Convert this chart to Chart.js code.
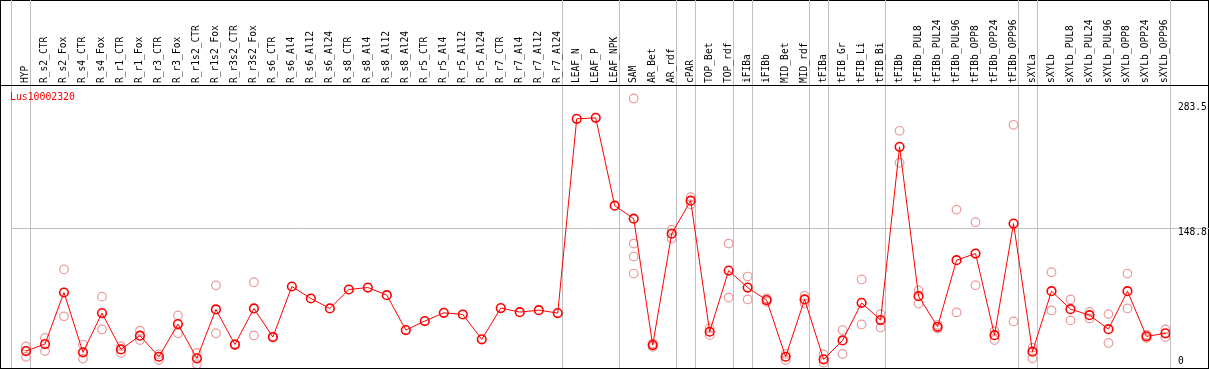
<!DOCTYPE html>
<html>
<head>
<meta charset="utf-8">
<script src="https://cdn.jsdelivr.net/npm/chart.js@4.4.1/dist/chart.umd.min.js"></script>
<style>
  body { margin: 0; background: #fff; }
  #frame { position: absolute; left: 0; top: 0; width: 1209px; height: 369px; box-sizing: border-box; border: 1px solid #000; }
  #rule { position: absolute; left: 0; top: 85px; width: 1209px; height: 1px; background: #000; }
  #wrap { position: absolute; left: 0; top: 0; width: 1209px; height: 370px; }
  #gene { position: absolute; left: 10px; top: 91px; color: #f00; font: 9.8px "DejaVu Sans Mono", monospace; }
</style>
</head>
<body>
<div id="frame"></div>
<div id="rule"></div>
<div id="wrap"><canvas id="expr" width="1209" height="370"></canvas></div>
<div id="gene">Lus10002320</div>
<script>
const categories = [
  'HYP', 'R_s2_CTR', 'R_s2_Fox', 'R_s4_CTR', 'R_s4_Fox', 'R_r1_CTR', 'R_r1_Fox', 'R_r3_CTR', 'R_r3_Fox',
  'R_r1s2_CTR', 'R_r1s2_Fox', 'R_r3s2_CTR', 'R_r3s2_Fox', 'R_s6_CTR', 'R_s6_Al4', 'R_s6_Al12', 'R_s6_Al24',
  'R_s8_CTR', 'R_s8_Al4', 'R_s8_Al12', 'R_s8_Al24', 'R_r5_CTR', 'R_r5_Al4', 'R_r5_Al12', 'R_r5_Al24',
  'R_r7_CTR', 'R_r7_Al4', 'R_r7_Al12', 'R_r7_Al24', 'LEAF_N', 'LEAF_P', 'LEAF_NPK', 'SAM', 'AR_Bet', 'AR_rdf',
  'cPAR', 'TOP_Bet', 'TOP_rdf', 'iFIBa', 'iFIBb', 'MID_Bet', 'MID_rdf', 'tFIBa', 'tFIB_Gr', 'tFIB_Li', 'tFIB_Bi',
  'tFIBb', 'tFIBb_PUL8', 'tFIBb_PUL24', 'tFIBb_PUL96', 'tFIBb_OPP8', 'tFIBb_OPP24', 'tFIBb_OPP96',
  'sXYLa', 'sXYLb', 'sXYLb_PUL8', 'sXYLb_PUL24', 'sXYLb_PUL96', 'sXYLb_OPP8', 'sXYLb_OPP24', 'sXYLb_OPP96'
];

// mean expression per sample
const means = [
  18, 25.5, 80.4, 16.7, 58.5, 19.8, 34.4, 12, 46.8, 10.3, 62.4, 25, 63.4, 33, 86.8, 74, 63.4,
  83.6, 85.7, 77.6, 40.4, 50, 58.8, 57, 30.5, 63.8, 59.5, 61.6, 58.5, 265.4, 266.4, 172.9,
  159, 24.4, 143, 178.2, 38.6, 103.8, 85.7, 72.3, 12, 73, 9.2, 29.4, 69.4, 51,
  235.6, 76.5, 43.9, 114.8, 121.9, 35, 153.8, 17.4, 81.8, 62.7, 56.3, 41.4, 81.8, 33.7, 36.9
];

// individual replicates (empty where only one value)
const replicates = [
  [23, 12], [32, 18], [105, 55], [25, 10], [76, 41], [23, 16], [39.7, 29.8], [14.5, 8.5], [56, 37],
  [16, 4], [88, 37], [25.5, 24.5], [91.4, 34.7], [33.5, 32.5], [], [], [],
  [], [], [], [], [], [], [], [], [], [], [], [], [], [], [],
  [287, 132.5, 118.7, 100.6], [26, 22.5], [147.4, 137.8], [182, 174.3], [42.2, 35], [132.5, 75],
  [97.4, 73], [74, 70.5], [15, 8.5], [76.9, 68.7], [14.5, 5.7], [40.4, 14.9], [94.3, 46.4], [57.4, 43.2],
  [252.6, 218.6], [82.6, 68.7], [46, 42], [168.7, 59.2], [155.2, 88.2], [39.3, 29.8], [259, 49.6],
  [21.6, 10.3], [102, 61.3], [73, 50.7], [59.8, 52.8], [57.4, 26.6], [100.6, 63.4], [35.5, 32], [41, 33]
];

// last sample of each tissue group (vertical separators)
const groupEnds = [0, 28, 31, 34, 35, 37, 38, 41, 42, 45, 52, 53, 60];

const yTickValues = [0, 148.8, 283.5];
const yTickLabels = ['0', '148.8', '283.5'];
const yMax = 301.4;

const monoFont = { family: '"DejaVu Sans Mono", monospace', size: 9.6 };
const pxPerUnit = 283 / yMax;
// label shift in pixels: 0 sits above its line, the others hang below it
const labelShift = [-6.3, 3.9, 5.8];
const ySpots = [];
const ySpotLabels = [];
yTickValues.forEach((v, i) => {
  ySpots.push(v - labelShift[i] / pxPerUnit);
  ySpotLabels.push(yTickLabels[i]);
});
ySpots.push(148.8);
ySpotLabels.push('');

const xMin = -0.79, sep = 0.24;

const meanPoints = means.map((v, i) => ({ x: i, y: v }));
const repPoints = [];
replicates.forEach((r, i) => r.forEach(v => repPoints.push({ x: i, y: v })));

const noPad = s => {
  s.paddingTop = 0; s.paddingBottom = 0; s.paddingLeft = 0; s.paddingRight = 0;
};

new Chart('expr', {
  type: 'scatter',
  data: {
    datasets: [{
      data: meanPoints,
      showLine: true,
      borderColor: '#ff0000',
      borderWidth: 1,
      pointRadius: 4.3,
      pointBorderWidth: 1.6,
      pointBorderColor: '#ff0000',
      pointBackgroundColor: 'rgba(0,0,0,0)',
      order: 0
    }, {
      data: repPoints,
      showLine: false,
      pointRadius: 4.3,
      pointBorderWidth: 1.2,
      pointBorderColor: '#eb9a9a',
      pointBackgroundColor: 'rgba(0,0,0,0)',
      order: 1
    }]
  },
  options: {
    responsive: false,
    animation: false,
    devicePixelRatio: 1,
    layout: { autoPadding: false, padding: { left: 11, right: 0, top: 0, bottom: 2 } },
    scales: {
      x: {
        type: 'linear',
        position: 'top',
        min: xMin,
        max: categories.length - 1 + sep,
        afterBuildTicks: s => {
          s.ticks = [{ value: xMin }].concat(categories.map((c, i) => ({ value: i + sep })));
        },
        afterFit: s => { s.height = 85; noPad(s); },
        ticks: {
          autoSkip: false,
          minRotation: 90,
          maxRotation: 90,
          padding: -83,
          labelOffset: 6.5,
          color: '#000',
          font: monoFont,
          callback: (v, i) => i === 0 ? '' : categories[i - 1]
        },
        grid: {
          color: ctx => (ctx.index === 0 || groupEnds.includes(ctx.index - 1)) ? '#c0c0c0' : 'rgba(0,0,0,0)',
          tickLength: 85,
          lineWidth: 1
        },
        border: { display: true, color: '#000' }
      },
      y: {
        position: 'right',
        min: 0,
        max: yMax,
        afterBuildTicks: s => { s.ticks = ySpots.map(v => ({ value: v })); },
        afterFit: s => { s.width = 39; noPad(s); },
        ticks: {
          autoSkip: false,
          padding: -31,
          color: '#000',
          font: monoFont,
          callback: (v, i) => ySpotLabels[i]
        },
        grid: {
          color: ctx => (ctx.tick && ctx.tick.value === 148.8) ? '#c0c0c0' : 'rgba(0,0,0,0)',
          tickLength: 39
        },
        border: { display: false }
      }
    },
    plugins: {
      legend: { display: false },
      tooltip: { enabled: false }
    }
  }
});
</script>
</body>
</html>
